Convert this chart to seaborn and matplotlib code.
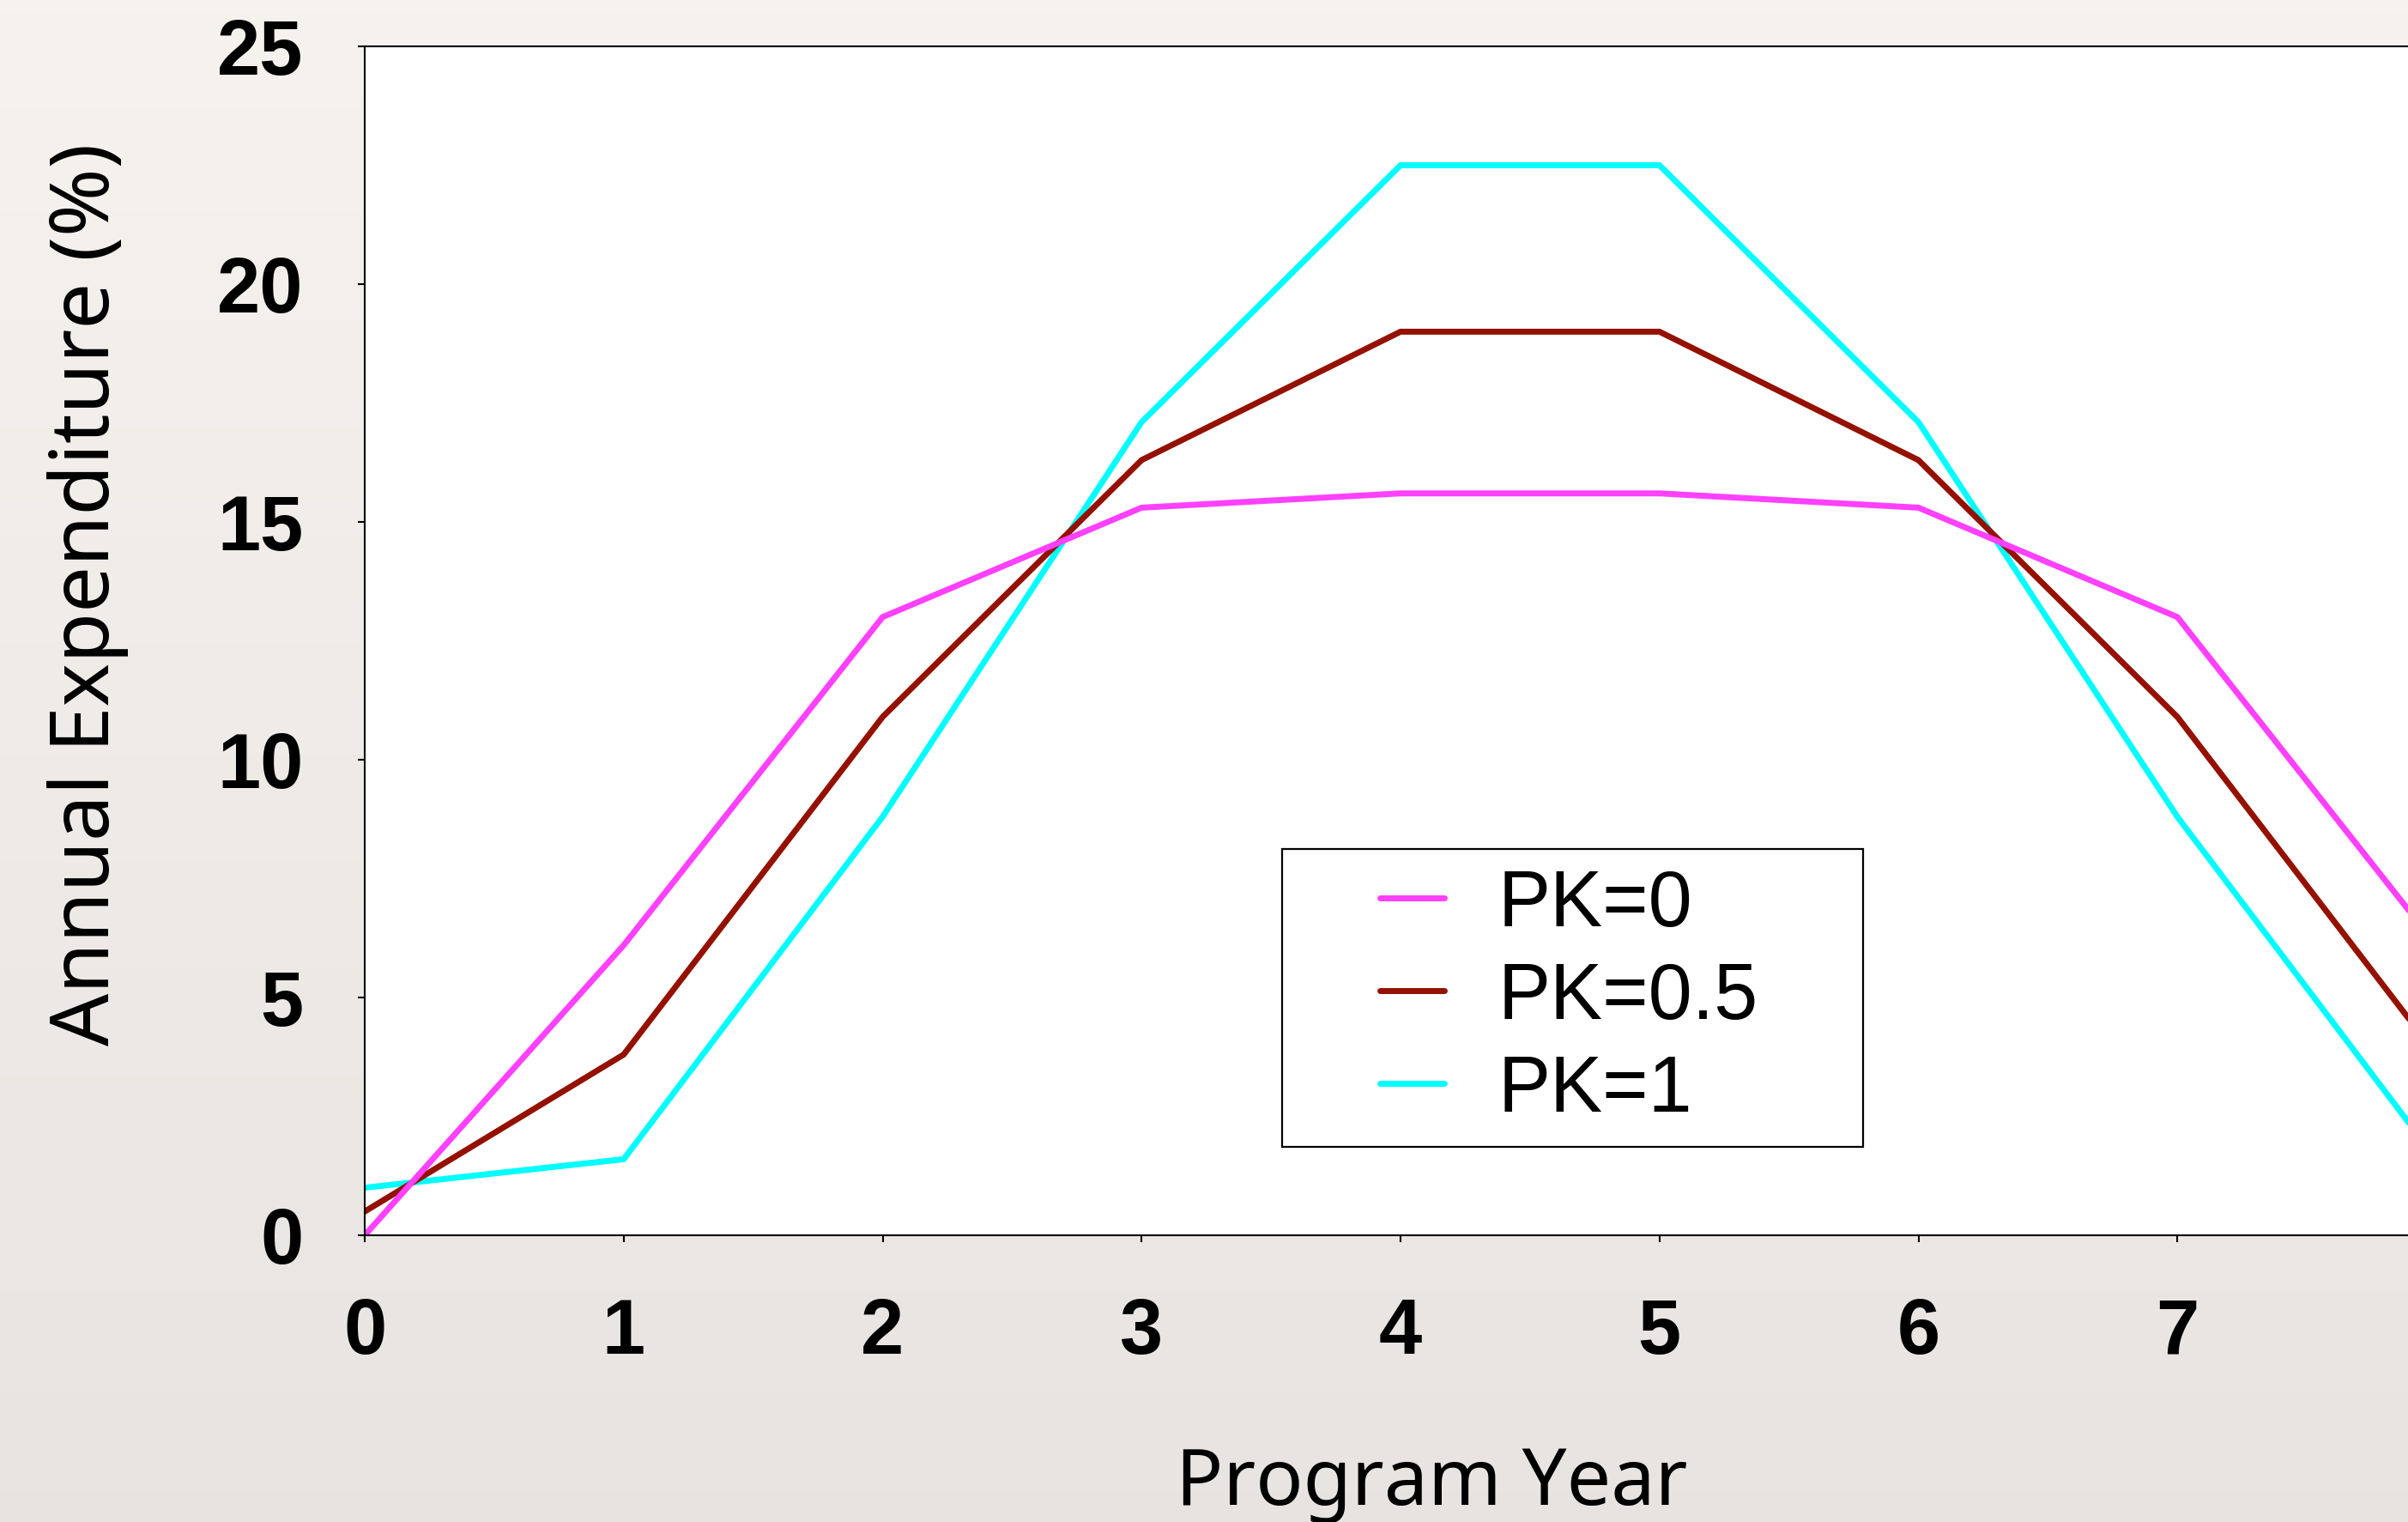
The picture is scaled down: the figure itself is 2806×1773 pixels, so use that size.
import numpy as np
import matplotlib
matplotlib.use("Agg")
import matplotlib.pyplot as plt
from matplotlib.patches import Rectangle
import seaborn as sns

# Annual expenditure profiles (% of total) by program year
years = [0, 1, 2, 3, 4, 5, 6, 7, 8]
pk_0 = [0.0, 6.1, 13.0, 15.3, 15.6, 15.6, 15.3, 13.0, 6.1]
pk_05 = [0.5, 3.8, 10.9, 16.3, 19.0, 19.0, 16.3, 10.9, 3.8]
pk_1 = [1.0, 1.6, 8.8, 17.1, 22.5, 22.5, 17.1, 8.8, 1.6]

series_labels = ["PK=0", "PK=0.5", "PK=1"]
series_values = [pk_0, pk_05, pk_1]
series_colors = ["#FF40FF", "#941100", "#00FDFF"]

x_ticks = [0, 1, 2, 3, 4, 5, 6, 7]
y_ticks = [0, 5, 10, 15, 20, 25]

sns.set_theme(style="white")
plt.rcParams["font.family"] = ["Liberation Sans", "DejaVu Sans"]
plt.rcParams.update({"text.color": "black", "axes.labelcolor": "black",
                     "xtick.color": "black", "ytick.color": "black"})

W, H = 2806, 1773
fig = plt.figure(figsize=(W / 100, H / 100), dpi=100)

# soft warm-grey backdrop
bg = fig.add_axes([0, 0, 1, 1], zorder=-10)
grad = np.linspace(0, 1, 256)[:, None]
top = np.array([0.965, 0.953, 0.937])
bot = np.array([0.905, 0.893, 0.882])
img = top[None, None, :] * (1 - grad[..., None]) + bot[None, None, :] * grad[..., None]
bg.imshow(np.repeat(img, 4, axis=1), aspect="auto", extent=[0, 1, 0, 1])
bg.set_axis_off()

left, right, top_px, bottom_px = 425, 2839, 54, 1439
ax = fig.add_axes([left / W, (H - bottom_px) / H, (right - left) / W, (bottom_px - top_px) / H])
ax.set_facecolor("white")

# draw PK=1 first so PK=0 sits on top
for lab, vals, col in reversed(list(zip(series_labels, series_values, series_colors))):
    sns.lineplot(x=years, y=vals, color=col, linewidth=5.0, label=lab, ax=ax,
                 solid_joinstyle="miter")

ax.set_xlim(0, 8)
ax.set_ylim(0, 25)
ax.set_xticks(x_ticks)
ax.set_yticks(y_ticks)
ax.tick_params(axis="both", which="major", direction="out", length=5.5, width=1.5,
               color="black", labelcolor="black", labelsize=65, bottom=True, left=True)
ax.tick_params(axis="x", pad=46)
ax.tick_params(axis="y", pad=46)
for t in ax.get_xticklabels() + ax.get_yticklabels():
    t.set_fontweight("bold")
for s in ax.spines.values():
    s.set_color("black")
    s.set_linewidth(1.5)

ax.set_xlabel("Program Year", fontsize=66, color="black", family=["Noto Sans", "DejaVu Sans"])
ax.set_ylabel("Annual Expenditure (%)", fontsize=69, color="black",
              family=["Noto Sans", "DejaVu Sans"])
ax.xaxis.set_label_coords(0.515, -0.176)
ax.yaxis.set_label_coords(-0.114, 0.539)

# legend: box drawn separately to get the wide side margins
ax.add_patch(Rectangle((0.4428, 0.0744), 0.2805, 0.2506, transform=ax.transAxes,
                       facecolor="white", edgecolor="black", linewidth=1.6, zorder=4))
handles, labels = ax.get_legend_handles_labels()
leg = ax.legend(handles[::-1], labels[::-1], loc="center left",
                bbox_to_anchor=(0.490, 0.1996), frameon=False, fontsize=66,
                borderpad=0, borderaxespad=0, handlelength=0.82,
                handletextpad=0.68, labelspacing=0.24)
leg.set_zorder(5)
for t in leg.get_texts():
    t.set_color("black")

fig.savefig("out.png", dpi=100)
